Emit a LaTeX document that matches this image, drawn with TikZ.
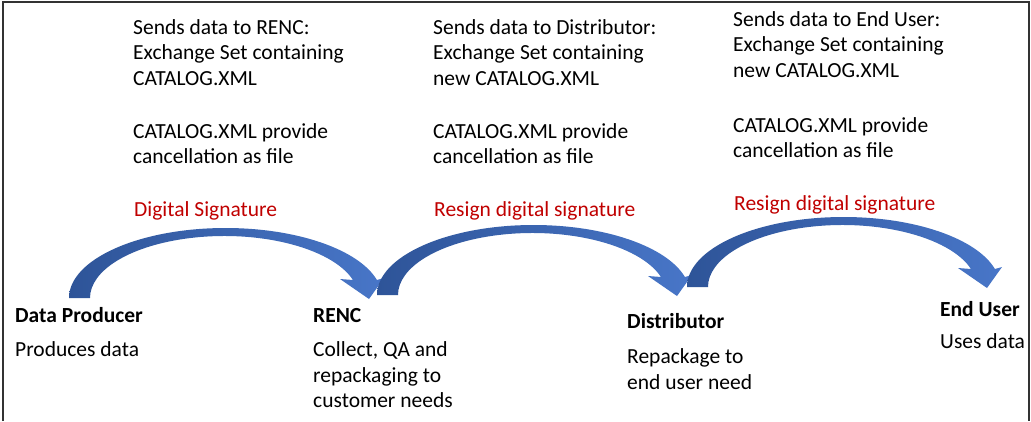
\documentclass[tikz,border=0pt]{standalone}
\usepackage{fontspec}
\setmainfont{Carlito}
\definecolor{sigred}{RGB}{192,0,0}
\definecolor{arcdark}{RGB}{46,84,152}
\definecolor{arclight}{RGB}{72,118,200}
\tikzset{
  txt/.style={anchor=base west, inner sep=0pt, align=left,
    font=\fontsize{21.5}{25.5}\selectfont},
  role/.style={txt, font=\fontsize{21.5}{25.5}\selectfont\bfseries},
  sig/.style={txt, text=sigred},
  arcfill/.style={left color=arcdark, right color=arclight},
  frame/.style={line width=1.5pt, black!80}
}
% curved block arrow; origin = outer foot of the left leg
\newcommand\curvedarrow[2]{%
  \begin{scope}[shift={(#1,#2)}]
    \path[arcfill]
      (0,0) arc[start angle=180, end angle=14.9, x radius=156.6, y radius=70]
      -- (315,20) -- (300,-1) -- (271,19) -- (284,18)
      arc[start angle=16.88, end angle=180, x radius=134.4, y radius=62]
      -- cycle;
  \end{scope}}
\begin{document}
\begin{tikzpicture}[x=1pt, y=1pt]
\useasboundingbox (0,0) rectangle (1031,-421);
\draw[frame] (3,-421) -- (3,-2) -- (1029,-2) -- (1029,-421);

% arrows between the stages
\curvedarrow{69}{-298}
\curvedarrow{377}{-295}
\curvedarrow{687}{-287}

% what is sent along each step (node base = baseline of last line)
\node[txt] (s1a) at (133,-85) {Sends data to RENC:\\Exchange Set containing\\CATALOG.XML};
\node[txt] (s1b) at (133,-163.5) {CATALOG.XML provide\\cancellation as file};
\node[sig] (s1c) at (134,-216) {Digital Signature};

\node[txt] (s2a) at (433,-85) {Sends data to Distributor:\\Exchange Set containing\\new CATALOG.XML};
\node[txt] (s2b) at (433,-163.5) {CATALOG.XML provide\\cancellation as file};
\node[sig] (s2c) at (434,-216) {Resign digital signature};

\node[txt] (s3a) at (733,-77) {Sends data to End User:\\Exchange Set containing\\new CATALOG.XML};
\node[txt] (s3b) at (733,-157.5) {CATALOG.XML provide\\cancellation as file};
\node[sig] (s3c) at (734,-210) {Resign digital signature};

% the stages
\node[role] (p) at (15,-322) {Data Producer};
\node[txt] (pd) at (15,-356) {Produces data};
\node[role] (r) at (313,-322) {RENC};
\node[txt] (rd) at (313,-407.5) {Collect, QA and\\repackaging to\\customer needs};
\node[role] (d) at (627,-328) {Distributor};
\node[txt] (dd) at (627,-389) {Repackage to\\end user need};
\node[role] (u) at (940,-316.5) {End User};
\node[txt] (ud) at (940,-348.5) {Uses data};
\end{tikzpicture}
\end{document}
